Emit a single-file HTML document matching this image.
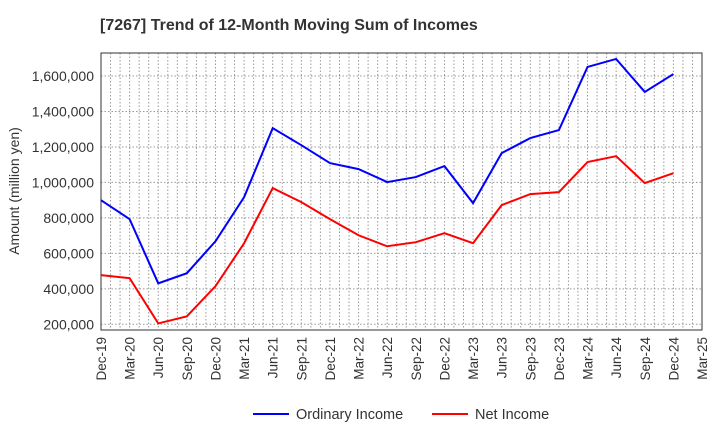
<!DOCTYPE html>
<html><head><meta charset="utf-8"><style>
body{margin:0;background:#fff;font-family:"Liberation Sans",sans-serif;}
</style></head><body>
<svg width="720" height="440" xmlns="http://www.w3.org/2000/svg" font-family="Liberation Sans, sans-serif">
<text x="100" y="30" font-size="16" font-weight="bold" fill="#333">[7267]  Trend of 12-Month Moving Sum of Incomes</text>
<g id="grid"></g>
<g id="axes"></g>
<g id="series"></g>
<text transform="translate(19,191) rotate(-90)" text-anchor="middle" font-size="14" fill="#333">Amount (million yen)</text>
<g>
<line x1="253" y1="414" x2="289" y2="414" stroke="#0000ff" stroke-width="2"/>
<text x="296" y="419" font-size="14.5" fill="#333">Ordinary Income</text>
<line x1="432" y1="414" x2="468" y2="414" stroke="#ff0000" stroke-width="2"/>
<text x="475" y="419" font-size="14.5" fill="#333">Net Income</text>
</g>
</svg>
<script>
const categories=["Dec-19","Mar-20","Jun-20","Sep-20","Dec-20","Mar-21","Jun-21","Sep-21","Dec-21","Mar-22","Jun-22","Sep-22","Dec-22","Mar-23","Jun-23","Sep-23","Dec-23","Mar-24","Jun-24","Sep-24","Dec-24","Mar-25"];
const ordinaryIncome=[900000,793000,431000,488000,668000,917000,1306000,1210000,1109000,1075000,1002000,1030000,1092000,883000,1165000,1250000,1295000,1651000,1696000,1510000,1611000];
const netIncome=[477000,460000,205000,245000,415000,657000,968000,889000,793000,702000,640000,663000,714000,657000,872000,934000,945000,1115000,1148000,996000,1052000];
const yTicks=[200000,400000,600000,800000,1000000,1200000,1400000,1600000];
const L=101,R=702,T=53,B=330;
const ns="http://www.w3.org/2000/svg";
function X(i){return L+i*(R-L)/(categories.length-1);}
function Y(v){return 324.3-(v-200000)*(324.3-76)/1400000;}
function mk(tag,attrs,parent){const e=document.createElementNS(ns,tag);for(const k in attrs)e.setAttribute(k,attrs[k]);document.getElementById(parent).appendChild(e);return e;}
const n=(categories.length-1)*3;
for(let m=1;m<n;m++){const x=L+m*(R-L)/n;
const g=mk('line',{x1:x,x2:x,y1:T,y2:B,stroke:'#999','stroke-dasharray':'1.5,2','stroke-width':1},'grid');

}
yTicks.forEach(v=>{const y=Y(v);
const g=mk('line',{x1:L,x2:R,y1:y,y2:y,stroke:'#999','stroke-dasharray':'1.5,2','stroke-width':1},'grid');


const t=mk('text',{x:L-7,y:y+5,'text-anchor':'end','font-size':14,fill:'#333'},'axes');t.textContent=v.toLocaleString('en-US');

});
const fr=mk('rect',{x:L,y:T,width:R-L,height:B-T,fill:'none',stroke:'#333','stroke-width':1},'axes');


categories.forEach((c,i)=>{const x=X(i);
const t=mk('text',{transform:`translate(${x+5},${B+7}) rotate(-90)`,'text-anchor':'end','font-size':13.5,fill:'#333'},'axes');t.textContent=c;

});
function line(data,color,name){const p=mk('polyline',{points:data.map((v,i)=>X(i)+','+Y(v)).join(' '),fill:'none',stroke:color,'stroke-width':2},'series');

}
line(ordinaryIncome,'#0000ff','ordinary-income-line');
line(netIncome,'#ff0000','net-income-line');
</script>
</body></html>
